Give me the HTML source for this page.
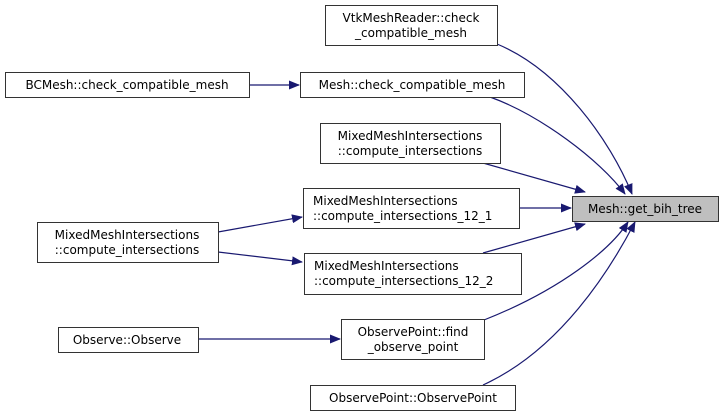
<!DOCTYPE html>
<html><head><style>body{margin:0;background:#fff}svg{display:block}text{font-family:"DejaVu Sans",sans-serif;font-size:12px}</style></head><body>
<svg width="724" height="417" viewBox="0 0 724 417">
<defs><marker id="a" markerWidth="11" markerHeight="9" refX="10" refY="4.5" orient="auto" markerUnits="userSpaceOnUse"><path d="M0,0L11,4.5L0,9z" fill="#191970"/></marker></defs>
<g fill="none" stroke="#191970" stroke-width="1.2" marker-end="url(#a)">
<path d="M497,44C560,70 610,140 632,194"/>
<path d="M490,97C540,115 600,160 625,194"/>
<path d="M483,163L585,192"/>
<path d="M519,208L571,208"/>
<path d="M483,253L585,224"/>
<path d="M484,320C560,290 610,250 628,222"/>
<path d="M483,385C560,350 610,270 635,222"/>
<path d="M249,85L299,85"/>
<path d="M218,232L302,217"/>
<path d="M218,252L302,262"/>
<path d="M198,339L340,339"/>
</g>
<g stroke="#333" stroke-width="1" fill="#fff">
<rect x="325.5" y="5.5" width="172" height="40"/>
<rect x="5.5" y="72.5" width="244" height="25"/>
<rect x="300.5" y="72.5" width="224" height="25"/>
<rect x="320.5" y="123.5" width="180" height="40"/>
<rect x="303.5" y="188.5" width="216" height="40"/>
<rect x="572.5" y="196.5" width="146" height="25" fill="#bfbfbf"/>
<rect x="37.5" y="222.5" width="181" height="40"/>
<rect x="304.5" y="253.5" width="217" height="41"/>
<rect x="58.5" y="327.5" width="140" height="25"/>
<rect x="341.5" y="319.5" width="143" height="40"/>
<rect x="310.5" y="385.5" width="205" height="25"/>
</g>
<g fill="#000" text-anchor="middle">
<text x="411" y="22">VtkMeshReader::check</text><text x="411" y="37">_compatible_mesh</text>
<text x="127" y="89">BCMesh::check_compatible_mesh</text>
<text x="412" y="89">Mesh::check_compatible_mesh</text>
<text x="410" y="140">MixedMeshIntersections</text><text x="410" y="155">::compute_intersections</text>
<text x="645" y="213">Mesh::get_bih_tree</text>
<text x="127" y="239">MixedMeshIntersections</text><text x="127" y="254">::compute_intersections</text>
<text x="127" y="344">Observe::Observe</text>
<text x="413" y="336">ObservePoint::find</text><text x="413" y="351">_observe_point</text>
<text x="413" y="402">ObservePoint::ObservePoint</text>
</g>
<g fill="#000">
<text x="313" y="205">MixedMeshIntersections</text><text x="313" y="220">::compute_intersections_12_1</text>
<text x="314" y="270">MixedMeshIntersections</text><text x="314" y="285">::compute_intersections_12_2</text>
</g>
</svg>
</body></html>
